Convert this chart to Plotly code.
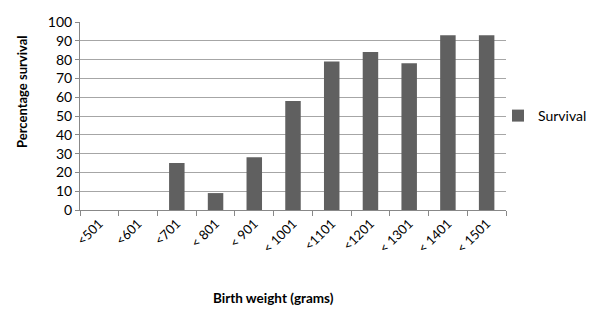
import plotly.graph_objects as go

categories = ["<501", "<601", "<701", "< 801", "< 901", "< 1001", "<1101", "<1201", "< 1301", "< 1401", "< 1501"]
survival = [0, 0, 25, 9, 28, 58, 79, 84, 78, 93, 93]
y_ticks = [0, 10, 20, 30, 40, 50, 60, 70, 80, 90, 100]

fig = go.Figure()
fig.add_trace(go.Bar(
    x=categories, y=survival, name="Survival",
    marker=dict(color="#606060", line=dict(width=0)),
    width=0.4, showlegend=True,
))

font = "Lato, Open Sans, Liberation Sans, sans-serif"
fig.update_layout(
    width=592, height=311,
    margin=dict(l=72, r=94, t=14, b=109, autoexpand=False),
    paper_bgcolor="white", plot_bgcolor="white",
    font=dict(family=font, size=13, color="#000000"),
    showlegend=True,
    legend=dict(x=1.0, y=0.5, xanchor="left", yanchor="middle",
                font=dict(size=14), itemwidth=30, borderwidth=0,
                tracegroupgap=0, indentation=-8),
    xaxis=dict(
        type="category", tickangle=-45, showline=True, linecolor="#888888",
        ticks="outside", tickson="boundaries", ticklen=5, tickcolor="#888888",
        showgrid=False, automargin=False,
        tickfont=dict(size=13),
    ),
    yaxis=dict(
        range=[0, 100], tickvals=y_ticks, showline=True, linecolor="#888888",
        ticks="outside", ticklen=4, tickcolor="#888888", automargin=False,
        showgrid=True, gridcolor="#A6A6A6", gridwidth=1, zeroline=False,
        tickfont=dict(size=14),
    ),
    bargap=0.6,
    annotations=[
        dict(text="<b>Birth weight (grams)</b>", xref="paper", yref="paper",
             x=0.455, y=-0.468, xanchor="center", yanchor="middle",
             showarrow=False, font=dict(size=13.5)),
        dict(text="<b>Percentage survival</b>", xref="paper", yref="paper",
             x=-0.136, y=0.628, xanchor="center", yanchor="middle", textangle=-90,
             showarrow=False, font=dict(size=13)),
    ],
)
fig.write_html("out.html")
